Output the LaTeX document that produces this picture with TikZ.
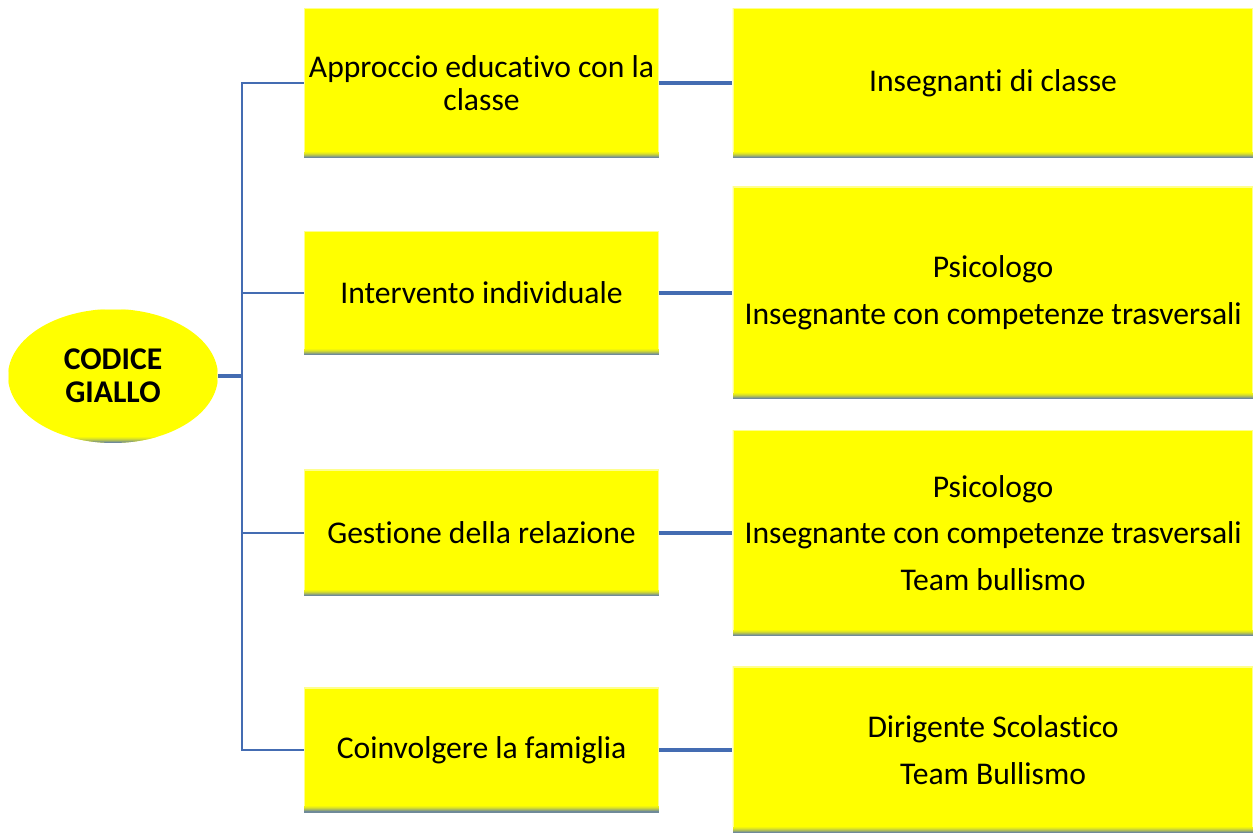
\documentclass[tikz,border=0pt]{standalone}
\usepackage{fontspec}
\setmainfont{Carlito}[Ligatures=NoCommon]
\usetikzlibrary{positioning,shapes.geometric}
\definecolor{boxyellow}{RGB}{255,255,0}
\definecolor{linkblue}{RGB}{68,108,178}
\definecolor{bevelblue}{RGB}{95,125,170}

\begin{document}
\begin{tikzpicture}[
  x=0.02cm, y=-0.02cm,
  node distance=1.46cm,
  bevel/.style={path picture={
    \foreach \k/\l/\p in {0/1/90,1/2/70,2/3/50,3/4/32,4/5/18,5/6/8}
      \fill[bevelblue!\p!boxyellow]
        ([yshift=\k*0.6pt]path picture bounding box.south west)
        rectangle ([yshift=\l*0.6pt]path picture bounding box.south east);
    \draw[boxyellow!45!white,line width=1.6pt]
      ([yshift=3.6pt]path picture bounding box.south west) -- (path picture bounding box.north west)
      -- (path picture bounding box.north east) -- ([yshift=3.6pt]path picture bounding box.south east);}},
  act/.style={fill=boxyellow,bevel,minimum width=7.1cm,inner sep=0pt,align=center,
    font=\fontsize{18}{18.8}\selectfont},
  who/.style={fill=boxyellow,bevel,minimum width=10.42cm,inner sep=0pt,align=center,
    font=\fontsize{18}{26.5}\selectfont},
  trunk/.style={draw=linkblue,line width=1.3pt},
  link/.style={draw=linkblue,line width=2.2pt},
  stub/.style={draw=linkblue,line width=2.8pt}
]
\useasboundingbox (0,0) rectangle (1253,832);
\node[ellipse,fill=boxyellow,bevel,minimum width=4.2cm,minimum height=2.68cm,inner sep=0pt,
      align=center,font=\fontsize{18}{18.8}\selectfont\bfseries] (root) at (113,376) {CODICE\\GIALLO};
\coordinate (jn) at (242,376);

\node[act,minimum height=3cm]    (approccio) at (481.5,83)  {Approccio educativo con la\\classe};
\node[act,minimum height=2.48cm] (intervento) at (481.5,293) {Intervento individuale};
\node[act,minimum height=2.54cm] (gestione)  at (481.5,533) {Gestione della relazione};
\node[act,minimum height=2.5cm]  (famiglia)  at (481.5,750) {Coinvolgere la famiglia};

\node[who,minimum height=3cm,right=of approccio]     (insegnanti) {Insegnanti di classe};
\node[who,minimum height=4.26cm,right=of intervento] (psico)  {Psicologo\\Insegnante con competenze trasversali};
\node[who,minimum height=4.12cm,right=of gestione]   (team)   {Psicologo\\Insegnante con competenze trasversali\\Team bullismo};
\node[who,minimum height=3.34cm,right=of famiglia]   (dirig)  {Dirigente Scolastico\\Team Bullismo};

\draw[stub] (root.east) -- (jn);
\draw[trunk] (jn) |- (approccio.west);
\draw[trunk] (jn) |- (intervento.west);
\draw[trunk] (jn) |- (gestione.west);
\draw[trunk] (jn) |- (famiglia.west);
\draw[link] (approccio) -- (insegnanti);
\draw[link] (intervento) -- (psico);
\draw[link] (gestione) -- (team);
\draw[link] (famiglia) -- (dirig);
\end{tikzpicture}
\end{document}
